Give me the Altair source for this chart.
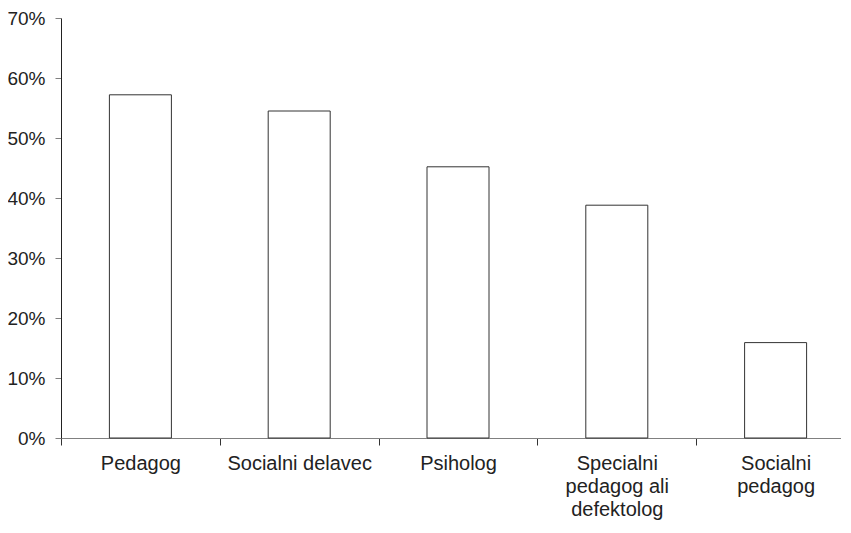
import altair as alt
import pandas as pd

categories = ["Pedagog", "Socialni delavec", "Psiholog",
              "Specialni|pedagog ali|defektolog", "Socialni|pedagog"]
values = [0.572, 0.545, 0.452, 0.388, 0.159]
y_ticks = [0, 0.1, 0.2, 0.3, 0.4, 0.5, 0.6, 0.7]

df = pd.DataFrame({"cat": categories, "val": values})

FONT = "Liberation Sans"

chart = alt.Chart(df).mark_bar(
    size=62, fill="white", stroke="#333333", strokeWidth=1
).encode(
    x=alt.X("cat:N", sort=None,
            scale=alt.Scale(paddingInner=0, paddingOuter=0, range=[0, 794]),
            axis=alt.Axis(title=None, labelAngle=0, tickBand="extent",
                          labelExpr="split(datum.label, '|')",
                          labelLineHeight=23, labelFontSize=20, labelFont=FONT,
                          labelColor="#222222", labelPadding=8, tickSize=7,
                          tickColor="#333333", domainColor="#808080",
                          labelOverlap=False, labelBound=False)),
    y=alt.Y("val:Q", scale=alt.Scale(domain=[0, 0.7], nice=False),
            axis=alt.Axis(title=None, format=".0%", values=y_ticks, grid=False,
                          tickSize=6, tickColor="#808080", domainColor="#222222",
                          labelFontSize=19, labelFont=FONT, labelColor="#222222",
                          labelPadding=10)),
).properties(
    width=780, height=420,
    autosize=alt.AutoSizeParams(type="none"),
    padding={"left": 53, "top": 10, "right": 0, "bottom": 87},
).configure_view(stroke=None)

chart.save("out.html", embed_options={"renderer": "svg", "actions": False})
